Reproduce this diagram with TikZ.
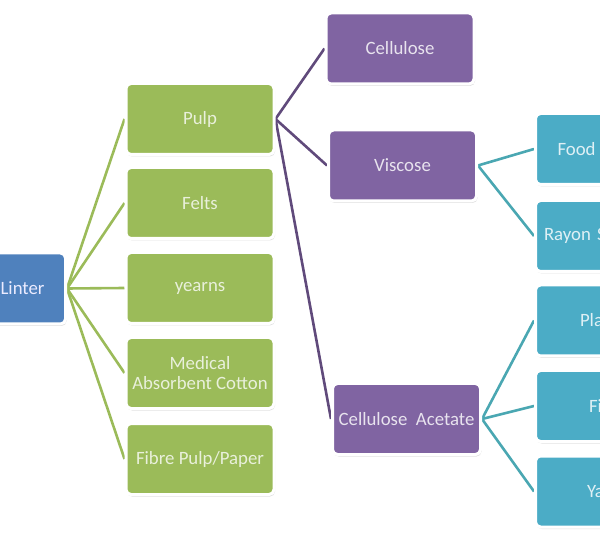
\documentclass[tikz,border=0pt]{standalone}
\usepackage{fontspec}
\setmainfont{Carlito}
\usepackage{xcolor}
\usetikzlibrary{shadows,backgrounds}
\definecolor{linterblue}{HTML}{4F81BD}
\definecolor{pulpgreen}{HTML}{9BBB59}
\definecolor{fibrepurple}{HTML}{8064A2}
\definecolor{usesteal}{HTML}{4BACC6}
\definecolor{purpleline}{HTML}{604A7B}
\definecolor{tealline}{HTML}{4AA7B2}

\begin{document}
\begin{tikzpicture}[x=1pt,y=-1pt,
    box/.style={rectangle, rounded corners=5pt, draw=white, line width=3pt,
      minimum width=148pt, minimum height=71pt, inner sep=0pt, align=center,
      font=\fontsize{18.8}{20.5}\selectfont,
      drop shadow={opacity=0.25, shadow xshift=1pt, shadow yshift=-2pt}},
    rootbox/.style={box, fill=linterblue, text=blue!8!white, align=right},
    greenbox/.style={box, fill=pulpgreen, text=pulpgreen!22!white},
    purplebox/.style={box, fill=fibrepurple, text=fibrepurple!18!white},
    tealbox/.style={box, fill=usesteal, text=usesteal!18!white, align=left},
    greenline/.style={draw=pulpgreen, line width=2.6pt},
    purpleline/.style={draw=purpleline, line width=2.6pt},
    tealline/.style={draw=tealline, line width=2.6pt}]
    \useasboundingbox (0,0) rectangle (600,545);
    \clip (0,0) rectangle (600,545);

    \node[rootbox, text width=106pt] (linter) at (-8.5,288.5) {Linter};

    \node[greenbox] (pulp)    at (200,119) {Pulp};
    \node[greenbox] (felts)   at (200,203) {Felts};
    \node[greenbox] (yearns)  at (200,288) {yearns};
    \node[greenbox] (medical) at (200,373) {Medical\\Absorbent Cotton};
    \node[greenbox] (fibre)   at (200,459) {Fibre Pulp/Paper};

    \node[purplebox] (cellulose) at (400,48.5)  {Cellulose};
    \node[purplebox] (viscose)   at (402.5,165.5) {Viscose};
    \node[purplebox] (acetate)   at (406.5,419) {Cellulose~~Acetate};

    \node[tealbox, text width=104pt] (food)     at (609.5,149)   {Food};
    \node[tealbox, text width=131pt] (rayon)    at (609.5,236)   {Rayon S};
    \node[tealbox, text width=59pt]  (plastics) at (609.5,320.5) {Pla};
    \node[tealbox, text width=41pt]  (film)     at (609.5,406)   {Fi};
    \node[tealbox, text width=45pt]  (yarn)     at (609.5,491.5) {Ya};

    \begin{scope}[on background layer]
    \foreach \n in {pulp,felts,yearns,medical,fibre}
      \draw[greenline] (linter.east) -- (\n.west);
    \foreach \n in {cellulose,viscose,acetate}
      \draw[purpleline] (pulp.east) -- (\n.west);
    \foreach \n in {food,rayon}
      \draw[tealline] (viscose.east) -- (\n.west);
    \foreach \n in {plastics,film,yarn}
      \draw[tealline] (acetate.east) -- (\n.west);
    \end{scope}
\end{tikzpicture}
\end{document}
